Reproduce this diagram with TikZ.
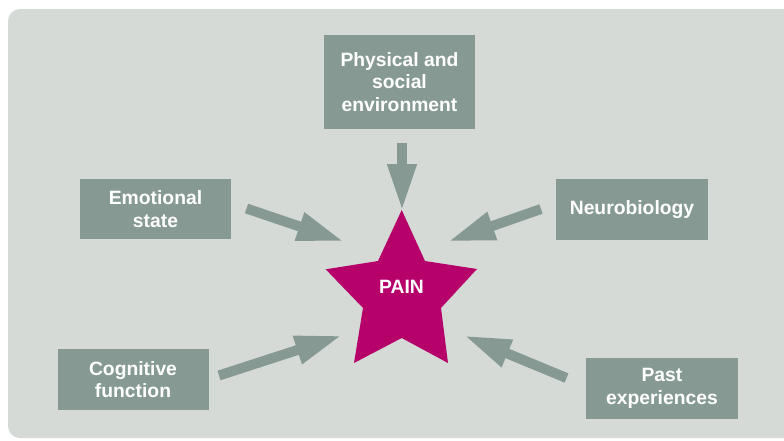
\documentclass[tikz,border=0pt]{standalone}
\usepackage{fontspec}
\setmainfont{Liberation Sans}
\usetikzlibrary{arrows.meta}
\definecolor{panel}{HTML}{D5DAD7}
\definecolor{boxc}{HTML}{879993}
\definecolor{starc}{HTML}{B6006A}
\tikzset{
  factor/.style={fill=boxc, text=white, font=\fontsize{19.3}{22.8}\selectfont\bfseries, align=center, inner sep=0pt, minimum width=151pt},
  blockarrow/.style={draw=boxc, line width=10pt, -{Triangle[length=47pt,width=27pt]}}
}
\begin{document}
\begin{tikzpicture}[x=1pt,y=-1pt]
\useasboundingbox (0,0) rectangle (784,440);
\fill[white] (0,0) rectangle (784,440);
\fill[panel, rounded corners=12pt] (8,9) rectangle (800,438);
% boxes
\node[factor, minimum height=94pt] (phys) at (399.5,82) {Physical and\\social\\environment};
\node[factor, minimum height=60pt] (emo) at (155.5,209) {Emotional\\state};
\node[factor, minimum height=61pt, minimum width=152pt] (neuro) at (632,209.5) {Neurobiology};
\node[factor, minimum height=61pt] (cog) at (133,379.5) {Cognitive\\function};
\node[factor, minimum height=61pt, minimum width=152pt] (past) at (662,388.5) {Past\\experiences};
% star
\fill[starc] (401.7,210) -- (425,261) -- (477,269) -- (441,308) -- (448,363) -- (401.7,338) -- (354,363) -- (363,308) -- (325.7,269.3) -- (378,261) -- cycle;
\node[text=white, font=\fontsize{19.3}{22.8}\selectfont\bfseries] (pain) at (401.5,287) {PAIN};
% arrow ends
\coordinate (physT) at (402,143);   \coordinate (physH) at (402,211);
\coordinate (emoT) at (246.5,208.5); \coordinate (emoH) at (344,241.5);
\coordinate (neuroT) at (541,209);  \coordinate (neuroH) at (448,241.5);
\coordinate (cogT) at (219,375.5);  \coordinate (cogH) at (342,335.5);
\coordinate (pastT) at (566.5,378); \coordinate (pastH) at (464,335.5);
\draw[blockarrow] (physT) -- (physH);
\draw[blockarrow] (emoT) -- (emoH);
\draw[blockarrow] (neuroT) -- (neuroH);
\draw[blockarrow] (cogT) -- (cogH);
\draw[blockarrow] (pastT) -- (pastH);
\end{tikzpicture}
\end{document}
